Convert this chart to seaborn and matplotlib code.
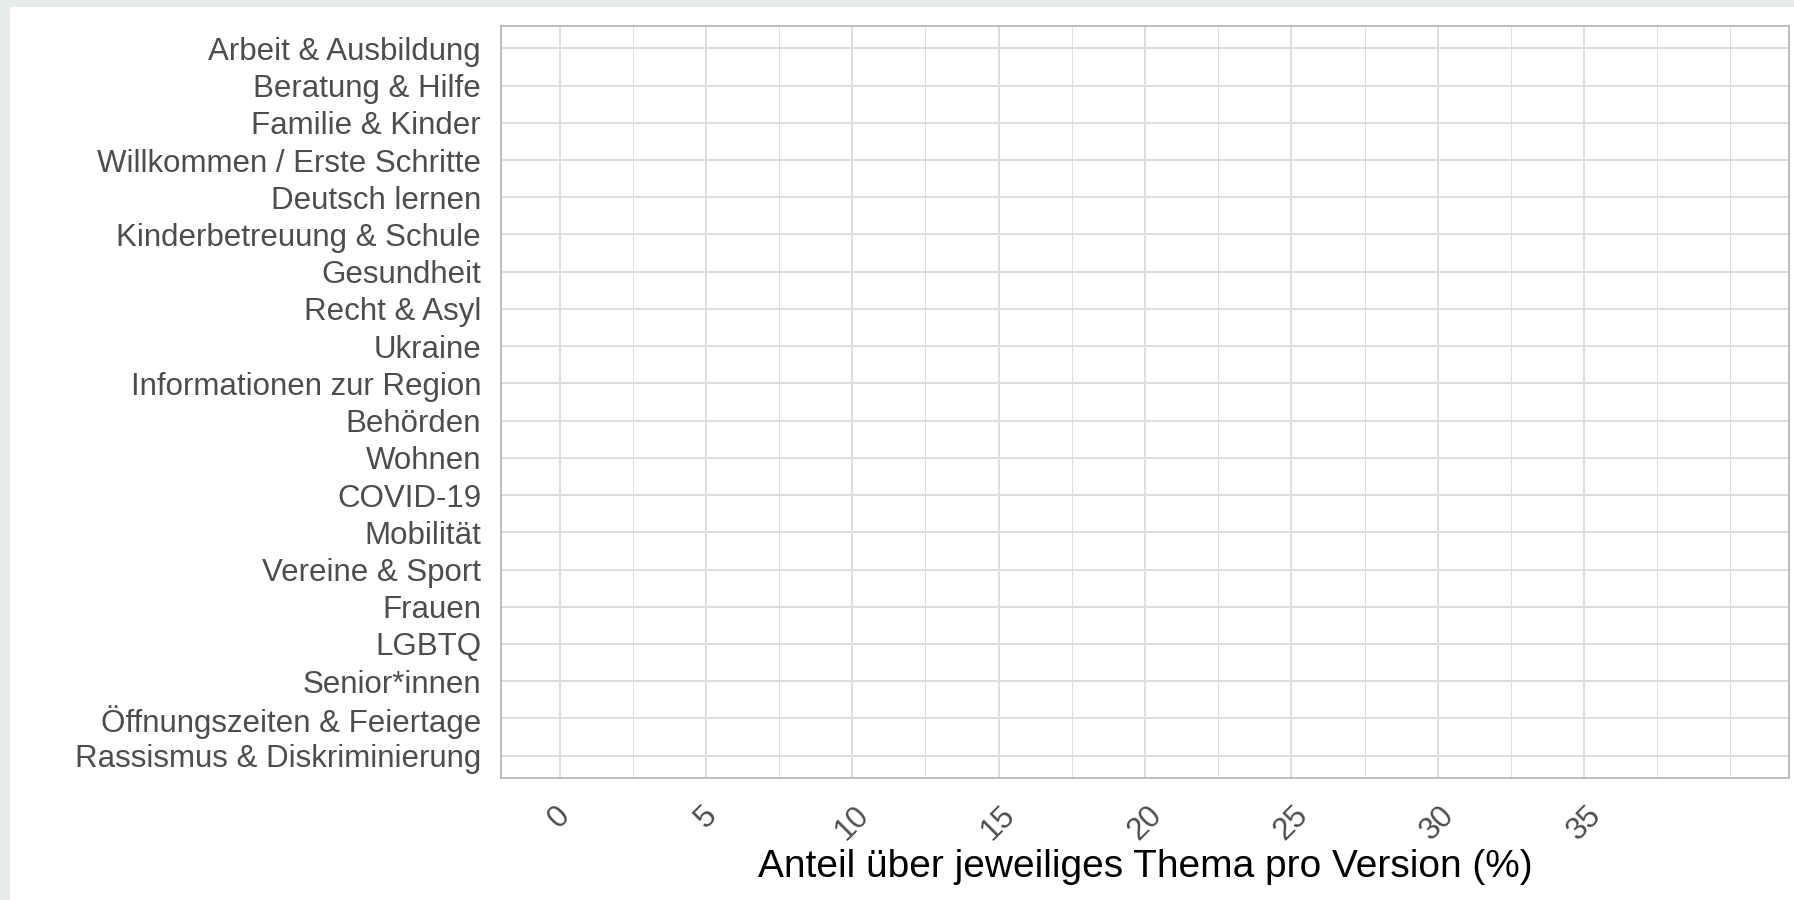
import numpy as np
import pandas as pd
import matplotlib
matplotlib.use("Agg")
import matplotlib.pyplot as plt
from matplotlib.patches import Rectangle
import seaborn as sns

# topics (top to bottom) and the share per topic; no bars are visible in the chart
topics = [
    "Arbeit & Ausbildung", "Beratung & Hilfe", "Familie & Kinder",
    "Willkommen / Erste Schritte", "Deutsch lernen", "Kinderbetreuung & Schule",
    "Gesundheit", "Recht & Asyl", "Ukraine", "Informationen zur Region",
    "Behörden", "Wohnen", "COVID-19", "Mobilität", "Vereine & Sport",
    "Frauen", "LGBTQ", "Senior*innen", "Öffnungszeiten & Feiertage",
    "Rassismus & Diskriminierung",
]
shares = [0, 0, 0, 0, 0, 0, 0, 0, 0, 0, 0, 0, 0, 0, 0, 0, 0, 0, 0, 0]
x_ticks = [0, 5, 10, 15, 20, 25, 30, 35]
x_minor = [2.5, 7.5, 12.5, 17.5, 22.5, 27.5, 32.5, 37.5, 40]
x_label = "Anteil über jeweiliges Thema pro Version (%)"

df = pd.DataFrame({"Thema": topics, "Anteil": shares})

sns.set_theme(style="whitegrid")
plt.rcParams["font.family"] = ["Liberation Sans", "DejaVu Sans"]

grid_col = "#DEDEDE"
frame_col = "#B3B3B3"
text_col = "#4D4D4D"

fig = plt.figure(figsize=(17.94, 9.0), dpi=100)
fig.patch.set_facecolor("#E6ECEA")
fig.add_artist(Rectangle((10 / 1794, 0), 1, 1 - 7 / 900, transform=fig.transFigure,
                         facecolor="white", edgecolor="none", zorder=0))

ax = fig.add_axes([501 / 1794, 1 - 778 / 900, (1789 - 501) / 1794, (778 - 26) / 900])
ax.set_facecolor("white")

sns.barplot(data=df, x="Anteil", y="Thema", order=topics, orient="h",
            errorbar=None, color="#4D4D4D", linewidth=0, ax=ax)

ax.set_xlim(-2, 42)
ax.set_ylim(len(topics) - 1 + 0.6, -0.6)
ax.set_xticks(x_ticks)
ax.set_xticks(x_minor, minor=True)
ax.set_xticklabels([str(t) for t in x_ticks], rotation=45, ha="center")

ax.grid(which="major", axis="both", color=grid_col, linewidth=1.4)
ax.grid(which="minor", axis="x", color=grid_col, linewidth=0.7)
ax.set_axisbelow(True)

for sp in ax.spines.values():
    sp.set_visible(True)
    sp.set_color(frame_col)
    sp.set_linewidth(1.2)

ax.tick_params(axis="both", which="major", length=7.2, width=1.4, color=frame_col,
               labelcolor=text_col, labelsize=22.5)
ax.tick_params(axis="y", pad=7.2)
ax.tick_params(axis="x", pad=9)
ax.tick_params(which="minor", length=0)

ax.set_ylabel("")
ax.set_xlabel(x_label, fontsize=28, color="black", labelpad=2)

fig.savefig("out.png", dpi=100, facecolor=fig.get_facecolor())
